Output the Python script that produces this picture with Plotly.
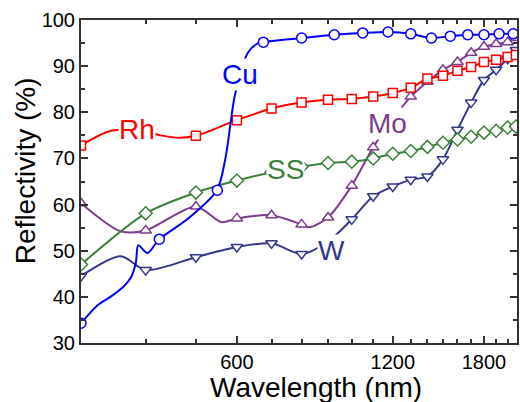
import plotly.graph_objects as go
import math

# ---------------- data ----------------
cu_line_wl = [300, 323, 342, 363, 375, 383, 387, 403, 425, 481, 549, 571, 595, 630, 655, 675,
              800, 925, 1050, 1175, 1300, 1425, 1550, 1675, 1800, 1925, 2050]
cu_line_r = [34.3, 38.2, 40.0, 42.3, 44.3, 47.5, 51.2, 49.5, 52.5, 56.8, 63.1, 70.4, 83.8, 92.9, 94.8, 95.2,
             96.1, 96.8, 97.2, 97.4, 97.0, 96.1, 96.5, 96.8, 96.8, 97.0, 97.0]
cu_wl = [300, 425, 550, 675, 800, 925, 1050, 1175, 1300, 1425, 1550, 1675, 1800, 1925, 2050]
cu_r = [34.3, 52.5, 63.1, 95.2, 96.1, 96.8, 97.2, 97.4, 97.0, 96.1, 96.5, 96.8, 96.8, 97.0, 97.0]

rh_line_wl = [300, 343, 400, 427, 467, 500, 600, 700, 800, 900, 1000, 1100, 1200, 1300, 1400,
              1500, 1600, 1700, 1800, 1900, 2000, 2075]
rh_line_r = [72.8, 76.0, 75.8, 75.0, 74.5, 74.9, 78.3, 80.8, 82.1, 82.7, 82.9, 83.4, 84.2, 85.3, 87.3,
             87.9, 89.0, 89.8, 90.9, 91.4, 92.0, 92.4]
rh_wl = [300, 400, 500, 600, 700, 800, 900, 1000, 1100, 1200, 1300, 1400, 1500, 1600, 1700, 1800,
         1900, 2000, 2075]
rh_r = [72.8, 75.8, 74.9, 78.3, 80.8, 82.1, 82.7, 82.9, 83.4, 84.2, 85.3, 87.3, 87.9, 89.0, 89.8, 90.9,
        91.4, 92.0, 92.4]

ss_wl = [300, 400, 500, 600, 700, 800, 900, 1000, 1100, 1200, 1300, 1400, 1500, 1600, 1700, 1800,
         1900, 2000, 2075]
ss_r = [47.0, 58.1, 62.6, 65.2, 67.0, 68.2, 69.0, 69.3, 70.0, 71.0, 71.6, 72.5, 73.4, 74.1, 74.7, 75.6,
        76.0, 76.7, 76.9]

mo_line_wl = [300, 358, 400, 500, 560, 600, 700, 800, 830, 900, 1000, 1100, 1200, 1300, 1400, 1500,
              1600, 1700, 1800, 1900, 2000, 2075]
mo_line_r = [60.3, 54.2, 54.4, 59.6, 56.2, 57.0, 57.7, 55.7, 55.1, 57.2, 64.1, 72.4, 78.5, 83.4, 86.6,
             89.2, 90.9, 92.9, 94.2, 94.8, 95.2, 96.1]
mo_wl = [300, 400, 500, 600, 700, 800, 900, 1000, 1100, 1200, 1300, 1400, 1500, 1600, 1700, 1800,
         1900, 2000, 2075]
mo_r = [60.3, 54.4, 59.6, 57.0, 57.7, 55.7, 57.2, 64.1, 72.4, 78.5, 83.4, 86.6, 89.2, 90.9, 92.9, 94.2,
        94.8, 95.2, 96.1]

w_line_wl = [300, 358, 400, 500, 600, 700, 800, 900, 1000, 1100, 1200, 1300, 1400, 1500, 1600, 1700,
             1800, 1900, 2000, 2075]
w_line_r = [44.5, 48.8, 45.8, 48.6, 50.8, 51.6, 49.3, 52.0, 56.8, 61.8, 63.9, 65.4, 66.1, 69.8, 76.2,
            82.1, 87.0, 89.2, 91.6, 93.5]
w_wl = [300, 400, 500, 600, 700, 800, 900, 1000, 1100, 1200, 1300, 1400, 1500, 1600, 1700, 1800,
        1900, 2000, 2075]
w_r = [44.5, 45.8, 48.6, 50.8, 51.6, 49.3, 52.0, 56.8, 61.8, 63.9, 65.4, 66.1, 69.8, 76.2, 82.1, 87.0,
       89.2, 91.6, 93.5]

x_tick_vals = [600, 1200, 1800]
x_tick_text = ["600", "1200", "1800"]
x_minor_vals = [v for v in range(300, 2100, 100) if v not in (600, 1200, 1800)]
y_tick_vals = [30, 40, 50, 60, 70, 80, 90, 100]

labels = [("Rh", 384, 76.2), ("Cu", 608, 88.1), ("SS", 744, 67.6), ("Mo", 1173, 77.5), ("W", 912, 50.1)]

# ---------------- styles ----------------
C_CU = "#0000FF"
C_RH = "#FF0000"
C_SS = "#3A813A"
C_MO = "#7D3C8C"
C_W = "#33378A"
FONT = "Arial, Liberation Sans, sans-serif"

series = [
    (w_line_wl, w_line_r, w_wl, w_r, C_W, "triangle-down", 10),
    (mo_line_wl, mo_line_r, mo_wl, mo_r, C_MO, "triangle-up", 10),
    (ss_wl, ss_r, ss_wl, ss_r, C_SS, "diamond", 10),
    (rh_line_wl, rh_line_r, rh_wl, rh_r, C_RH, "square", 9),
    (cu_line_wl, cu_line_r, cu_wl, cu_r, C_CU, "circle", 10),
]

fig = go.Figure()
for lx, ly, mx, my, col, sym, size in series:
    fig.add_trace(go.Scatter(x=lx, y=ly, mode="lines",
                             line=dict(color=col, width=2, shape="spline", smoothing=0.8),
                             showlegend=False, hoverinfo="skip"))
    fig.add_trace(go.Scatter(x=mx, y=my, mode="markers",
                             marker=dict(symbol=sym, size=size, color="white",
                                         line=dict(color=col, width=1.5)),
                             showlegend=False))

col_map = {"Rh": C_RH, "Cu": C_CU, "SS": C_SS, "Mo": C_MO, "W": C_W}
for name, lx, ly in labels:
    fig.add_annotation(x=math.log10(lx), y=ly, text=name, showarrow=False,
                       font=dict(family=FONT, size=28, color=col_map[name]),
                       bgcolor="white", borderpad=0, xanchor="center", yanchor="middle")

fig.add_annotation(xref="paper", yref="paper", x=0.538, y=-0.139, text="Wavelength (nm)",
                   showarrow=False, font=dict(family=FONT, size=28, color="black"),
                   xanchor="center", yanchor="middle")
fig.add_annotation(xref="paper", yref="paper", x=-0.128, y=0.5325, text="Reflectivity (%)",
                   showarrow=False, textangle=-90, font=dict(family=FONT, size=28, color="black"),
                   xanchor="center", yanchor="middle")

axis_common = dict(showline=True, linecolor="#333333", linewidth=2, mirror="ticks",
                   ticks="inside", ticklen=7, tickwidth=1.5, tickcolor="#333333",
                   showgrid=False, zeroline=False,
                   tickfont=dict(family=FONT, size=20, color="black"))

fig.update_xaxes(type="log", range=[math.log10(300), math.log10(2085)],
                 tickmode="array", tickvals=x_tick_vals, ticktext=x_tick_text,
                 minor=dict(tickvals=x_minor_vals, ticks="inside", ticklen=4,
                            tickwidth=1.5, tickcolor="#333333", showgrid=False),
                 **axis_common)
fig.update_yaxes(range=[30, 100], tickmode="array", tickvals=y_tick_vals,
                 minor=dict(dtick=5, ticks="inside", ticklen=4, tickwidth=1.5,
                            tickcolor="#333333", showgrid=False),
                 **axis_common)

fig.update_layout(width=520, height=402, margin=dict(l=81, r=1, t=20, b=59),
                  plot_bgcolor="white", paper_bgcolor="white",
                  font=dict(family=FONT))

fig.write_html("out.html", config={"displayModeBar": False},
               post_script="document.body.style.margin='0';document.body.style.overflow='hidden';")
